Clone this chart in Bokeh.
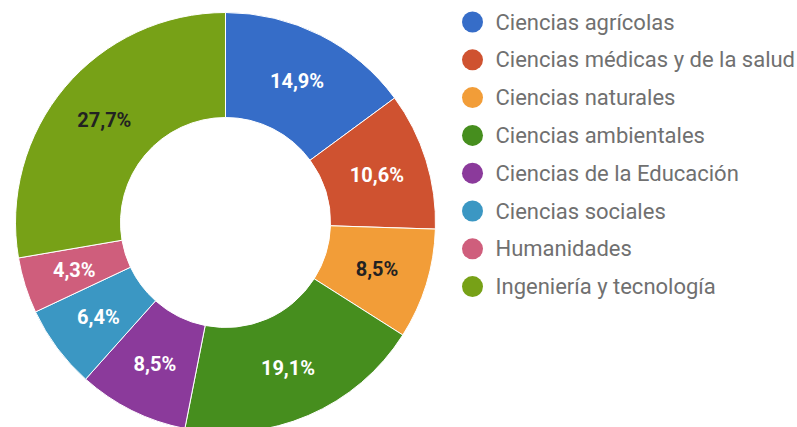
import math
from bokeh.plotting import figure
from bokeh.models import Range1d, ColumnDataSource
from bokeh.core.properties import value
from bokeh.embed import file_html
from bokeh.resources import INLINE

categories = ["Ciencias agrícolas", "Ciencias médicas y de la salud", "Ciencias naturales",
              "Ciencias ambientales", "Ciencias de la Educación", "Ciencias sociales",
              "Humanidades", "Ingeniería y tecnología"]
percentages = [14.9, 10.6, 8.5, 19.1, 8.5, 6.4, 4.3, 27.7]
labels = ["14,9%", "10,6%", "8,5%", "19,1%", "8,5%", "6,4%", "4,3%", "27,7%"]
colors = ["#366dc8", "#cf5230", "#f29d38", "#468e1e", "#8b3a9b", "#3b97c3", "#cf5e7c", "#77a117"]
label_colors = ["white", "white", "#222222", "white", "white", "white", "white", "#222222"]

W, H = 797, 427
p = figure(width=W, height=H, output_backend="svg", toolbar_location=None,
           x_range=Range1d(0, W), y_range=Range1d(-H, 0),
           min_border=0, outline_line_color=None)
p.axis.visible = False
p.grid.visible = False
p.background_fill_color = "white"
p.border_fill_color = "white"

cx, cy = 225, -222
r_out, r_in = 210, 105

total = sum(percentages)
starts, ends, lx, ly = [], [], [], []
cum = 0.0
for v in percentages:
    a0 = math.pi / 2 - 2 * math.pi * cum / total
    cum += v
    a1 = math.pi / 2 - 2 * math.pi * cum / total
    starts.append(a1)
    ends.append(a0)
    mid = (a0 + a1) / 2
    rm = (r_out + r_in) / 2 + 1
    lx.append(cx + rm * math.cos(mid))
    ly.append(cy + rm * math.sin(mid))

src = ColumnDataSource(dict(start=starts, end=ends, color=colors, x=lx, y=ly,
                            label=labels, lcolor=label_colors))
p.annular_wedge(x=cx, y=cy, inner_radius=r_in, outer_radius=r_out,
                start_angle="start", end_angle="end", fill_color="color",
                line_color="white", line_width=1, source=src)
p.text(x="x", y="y", text="label", text_color="lcolor", source=src,
       text_align="center", text_baseline="middle",
       text_font=value("Roboto"), text_font_size="20px", text_font_style="bold")

# legend
n = len(categories)
leg_y = [-(21.5 + 37.8 * i) for i in range(n)]
leg = ColumnDataSource(dict(x=[472] * n, tx=[495] * n, y=leg_y, color=colors, name=categories))
p.circle(x="x", y="y", radius=10.5, fill_color="color", line_color=None, source=leg)
p.text(x="tx", y="y", text="name", source=leg, text_color="#707070",
       text_align="left", text_baseline="middle",
       text_font=value("Roboto"), text_font_size="22px")

open("out.html", "w").write(file_html(p, INLINE))
